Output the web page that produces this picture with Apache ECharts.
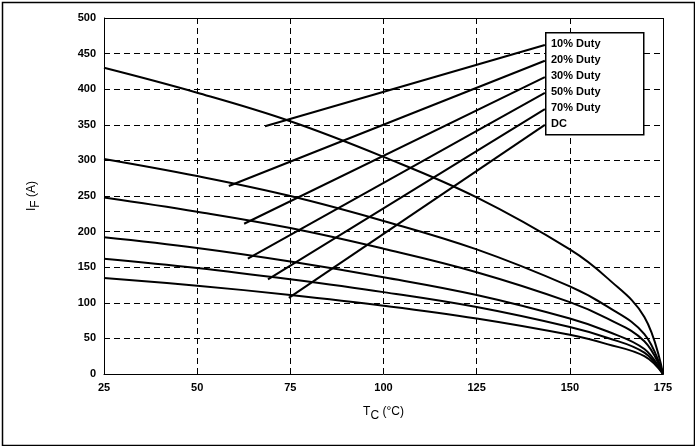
<!DOCTYPE html>
<html>
<head>
<meta charset="UTF-8">
<script src="https://cdn.jsdelivr.net/npm/echarts@6/dist/echarts.min.js"></script>
<style>body{margin:0}#main{width:695px;height:446px}</style>
</head>
<body>
<div id="main"></div>
<script>
var temps = [25, 50, 75, 100, 125, 150, 160, 170, 175];
var names = ['10% Duty', '20% Duty', '30% Duty', '50% Duty', '70% Duty', 'DC'];
var duty10 = [430, 395, 355, 305, 248, 175, 135, 80, 0];
var duty20 = [302, 278, 250, 215, 175, 123, 95, 56, 0];
var duty30 = [248, 228, 205, 176, 143, 101, 78, 46, 0];
var duty50 = [192, 177, 158, 136, 111, 78, 60, 35, 0];
var duty70 = [162, 149, 133, 115, 94, 66, 51, 30, 0];
var dutyDC = [135, 124, 111, 96, 78, 55, 42, 25, 0];
// leader lines: [legend end, curve end] as [T, I]
var leaders = [
  [[143.3, 462], [68.2, 348]],
  [[143.3, 440], [58.5, 264]],
  [[143.3, 417], [62.6, 211]],
  [[143.3, 395], [63.6, 162]],
  [[143.3, 372], [69, 133]],
  [[143.3, 350], [74.6, 107]]
];

var chart = echarts.init(document.getElementById('main'));
var font = 'Liberation Sans, Arial, sans-serif';
var series = [duty10, duty20, duty30, duty50, duty70, dutyDC].map(function (d, i) {
  return {
    name: names[i], type: 'line', smooth: 0.4, symbol: 'none',
    lineStyle: {color: '#000', width: 2},
    data: temps.map(function (t, j) { return [t, d[j]]; })
  };
});
leaders.forEach(function (l) {
  series.push({type: 'line', symbol: 'none', lineStyle: {color: '#000', width: 2}, data: l, silent: true});
});
var legendText = names.map(function (n, i) {
  return {type: 'text', left: 551, top: 38 + i * 16, style: {text: n, font: 'bold 11px ' + font, fill: '#000'}};
});

chart.setOption({
  animation: false,
  grid: {left: 104, right: 32, top: 18, bottom: 72},
  xAxis: {
    type: 'value', min: 25, max: 175, interval: 25,
    name: '{a|T}{s|C}{a| (°C)}', nameLocation: 'middle', nameGap: 28,
    nameTextStyle: {rich: {a: {font: 'bold 14px ' + font, color: '#000'}, s: {font: 'bold 9px ' + font, color: '#000', verticalAlign: 'bottom', padding: [8, 0, 0, 0]}}},
    axisLine: {lineStyle: {color: '#000', width: 1}},
    axisTick: {show: false},
    axisLabel: {color: '#000', fontFamily: font, fontWeight: 'bold', fontSize: 11},
    splitLine: {lineStyle: {color: '#000', type: [6, 4], width: 1}}
  },
  yAxis: {
    type: 'value', min: 0, max: 500, interval: 50,
    name: '{a|I}{s|F}{a| (A)}', nameLocation: 'middle', nameGap: 62, nameRotate: 90,
    nameTextStyle: {rich: {a: {font: 'bold 14px ' + font, color: '#000'}, s: {font: 'bold 9px ' + font, color: '#000', padding: [8, 0, 0, 0]}}},
    axisLine: {show: true, lineStyle: {color: '#000', width: 1}},
    axisTick: {show: false},
    axisLabel: {color: '#000', fontFamily: font, fontWeight: 'bold', fontSize: 11},
    splitLine: {lineStyle: {color: '#000', type: [6, 4], width: 1}}
  },
  graphic: [
    {type: 'rect', left: 0, top: 0, shape: {x: 1, y: 1, width: 692, height: 443}, style: {fill: 'none', stroke: '#000', lineWidth: 1.5}, silent: true},
    {type: 'rect', left: 663, top: 18, shape: {width: 0, height: 356}, style: {stroke: '#000'}},
    {type: 'rect', left: 104, top: 18, shape: {width: 559, height: 0}, style: {stroke: '#000'}},
    {type: 'rect', left: 545, top: 32, z: 10, shape: {width: 98, height: 102}, style: {fill: '#fff', stroke: '#000', lineWidth: 1.5}}
  ].concat(legendText.map(function (t) { t.z = 11; return t; })),
  series: series
});
</script>
</body>
</html>
